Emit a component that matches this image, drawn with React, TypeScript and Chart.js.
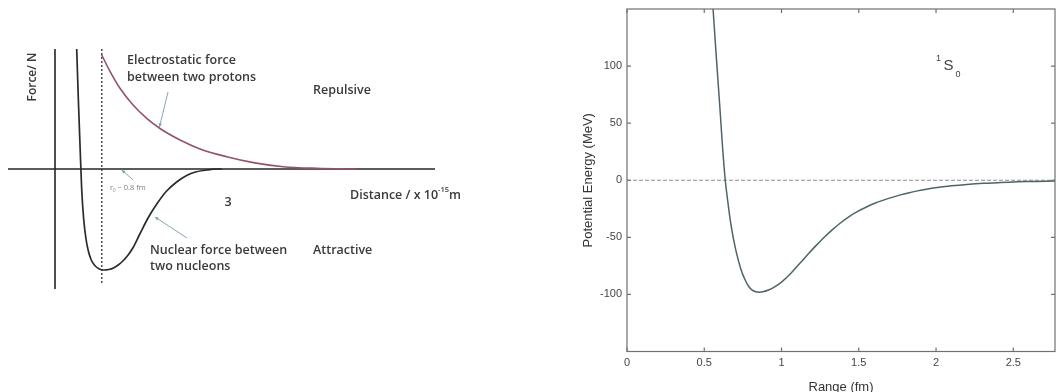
import React, { useEffect, useRef } from 'react';
import { Chart, registerables } from 'chart.js';

Chart.register(...registerables);

// ---------- Left panel: schematic force curves (x in fm, y in arbitrary force units) ----------
const NUCLEAR_X = [0.371, 0.40, 0.43, 0.456, 0.49, 0.53, 0.57, 0.62, 0.68, 0.75, 0.83, 0.92, 1.0, 1.08, 1.16, 1.25, 1.33, 1.45, 1.6, 1.74, 1.9, 2.08, 2.25, 2.4, 2.593, 2.764, 2.85];
const NUCLEAR_F = [1.2, 0.68, 0.2, -0.2, -0.5, -0.7, -0.82, -0.91, -0.965, -0.997, -1.01, -1.005, -0.99, -0.96, -0.92, -0.86, -0.79, -0.65, -0.48, -0.35, -0.225, -0.13, -0.065, -0.03, -0.01, 0, 0];

const COULOMB_X = [0.798, 0.94, 1.111, 1.338, 1.568, 1.795, 2.137, 2.479, 2.935, 3.39, 3.903, 4.474, 5.157];
const COULOMB_F = [1.14, 0.977, 0.807, 0.637, 0.507, 0.405, 0.29, 0.201, 0.123, 0.064, 0.023, 0.007, 0];

const R0_X = [0.8, 0.8];
const R0_F = [1.2, -1.14];

// ---------- Right panel: 1S0 potential ----------
const RANGE_FM = [0.545, 0.557, 0.575, 0.59, 0.605, 0.62, 0.636, 0.65, 0.67, 0.69, 0.71, 0.735, 0.76, 0.79, 0.82, 0.853, 0.88, 0.92, 0.95, 1.0, 1.058, 1.11, 1.167, 1.22, 1.275, 1.33, 1.383, 1.44, 1.49, 1.55, 1.6, 1.66, 1.71, 1.77, 1.82, 1.88, 1.92, 2.03, 2.1, 2.2, 2.31, 2.42, 2.53, 2.65, 2.78];
const POTENTIAL_MEV = [175, 150, 114, 85, 56, 26, 0, -16, -36.5, -52, -64.5, -77, -86, -93.5, -97, -98, -97.6, -95.9, -93.9, -89.2, -81.9, -74.1, -65.5, -57.7, -50.1, -43.2, -37.2, -31.6, -27.5, -23.4, -20.4, -17.4, -15.2, -12.8, -11.1, -9.3, -8.3, -6.0, -4.9, -3.7, -2.7, -2.0, -1.4, -1.0, -0.7];

const X_TICKS = [0, 0.5, 1, 1.5, 2, 2.5];
const Y_TICKS = [-100, -50, 0, 50, 100];
const X_MIN = 0;
const X_MAX = 2.77;
const Y_MIN = -150;
const Y_MAX = 150;

const pts = (xs: number[], ys: number[]) => xs.map((x, i) => ({ x, y: ys[i] }));

// ---------- Left panel decoration (axes, labels, arrows) ----------
const LEFT_AXES = { xFrom: -0.803, xTo: 6.496, yFrom: -1.2, yTo: 1.2 };
const LEFT_FONT = "'Open Sans', 'Liberation Sans', sans-serif";

type Part = { t: string; sup?: boolean; sub?: boolean };
const LEFT_LABELS: { parts: Part[]; x: number; y: number; align?: string; size?: number; color?: string; weight?: string }[] = [
  { parts: [{ t: 'Electrostatic force' }], x: 1.231, y: 1.09 },
  { parts: [{ t: 'between two protons' }], x: 1.231, y: 0.92 },
  { parts: [{ t: 'Repulsive' }], x: 4.41, y: 0.79 },
  { parts: [{ t: 'Distance / x 10' }, { t: '-15', sup: true }, { t: 'm' }], x: 5.043, y: -0.26 },
  { parts: [{ t: '3' }], x: 2.957, y: -0.33, align: 'center' },
  { parts: [{ t: 'Nuclear force between' }], x: 1.624, y: -0.81 },
  { parts: [{ t: 'two nucleons' }], x: 1.624, y: -0.97 },
  { parts: [{ t: 'Attractive' }], x: 4.41, y: -0.81 },
  { parts: [{ t: 'r' }, { t: '0', sub: true }, { t: ' ~ 0.8 fm' }], x: 0.94, y: -0.19, size: 7.5, color: '#808080', weight: '400' },
];
const LEFT_YTITLE = { text: 'Force/ N', x: -0.376, y: 0.92 };
const LEFT_ARROWS = [
  { from: [1.932, 0.77], to: [1.786, 0.42] },
  { from: [2.256, -0.69], to: [1.709, -0.48] },
  { from: [1.338, -0.11], to: [1.14, -0.01] },
];

function drawParts(ctx: CanvasRenderingContext2D, parts: Part[], x: number, y: number, size: number, weight: string, align: string) {
  const fontFor = (p: Part) => `${weight} ${p.sup || p.sub ? size * 0.6 : size}px ${LEFT_FONT}`;
  let total = 0;
  parts.forEach((p) => { ctx.font = fontFor(p); total += ctx.measureText(p.t).width; });
  let cx = align === 'center' ? x - total / 2 : x;
  ctx.textAlign = 'left';
  ctx.textBaseline = 'middle';
  parts.forEach((p) => {
    ctx.font = fontFor(p);
    const dy = p.sup ? -size * 0.4 : p.sub ? size * 0.3 : 0;
    ctx.fillText(p.t, cx, y + dy);
    cx += ctx.measureText(p.t).width;
  });
}

const leftDecor = {
  id: 'leftDecor',
  beforeDatasetsDraw(chart: any) {
    const { ctx, scales: { x, y } } = chart;
    ctx.save();
    ctx.strokeStyle = '#262626';
    ctx.lineWidth = 1.6;
    ctx.beginPath();
    ctx.moveTo(x.getPixelForValue(LEFT_AXES.xFrom), y.getPixelForValue(0));
    ctx.lineTo(x.getPixelForValue(LEFT_AXES.xTo), y.getPixelForValue(0));
    ctx.moveTo(x.getPixelForValue(0), y.getPixelForValue(LEFT_AXES.yTo));
    ctx.lineTo(x.getPixelForValue(0), y.getPixelForValue(LEFT_AXES.yFrom));
    ctx.stroke();
    ctx.restore();
  },
  afterDatasetsDraw(chart: any) {
    const { ctx, scales: { x, y } } = chart;
    ctx.save();
    // arrows
    ctx.strokeStyle = '#7fa8b4';
    ctx.fillStyle = '#7fa8b4';
    ctx.lineWidth = 1;
    LEFT_ARROWS.forEach((a) => {
      const x1 = x.getPixelForValue(a.from[0]);
      const y1 = y.getPixelForValue(a.from[1]);
      const x2 = x.getPixelForValue(a.to[0]);
      const y2 = y.getPixelForValue(a.to[1]);
      ctx.beginPath();
      ctx.moveTo(x1, y1);
      ctx.lineTo(x2, y2);
      ctx.stroke();
      const ang = Math.atan2(y2 - y1, x2 - x1);
      const hl = 4;
      ctx.beginPath();
      ctx.moveTo(x2, y2);
      ctx.lineTo(x2 - hl * Math.cos(ang - 0.45), y2 - hl * Math.sin(ang - 0.45));
      ctx.lineTo(x2 - hl * Math.cos(ang + 0.45), y2 - hl * Math.sin(ang + 0.45));
      ctx.closePath();
      ctx.fill();
    });
    // labels
    LEFT_LABELS.forEach((l) => {
      ctx.fillStyle = l.color || '#3a3a3a';
      drawParts(ctx, l.parts, x.getPixelForValue(l.x), y.getPixelForValue(l.y), l.size || 12.5, l.weight || '600', l.align || 'left');
    });
    // rotated y title
    ctx.save();
    ctx.translate(x.getPixelForValue(LEFT_YTITLE.x), y.getPixelForValue(LEFT_YTITLE.y));
    ctx.rotate(-Math.PI / 2);
    ctx.fillStyle = '#3a3a3a';
    ctx.font = `600 12px ${LEFT_FONT}`;
    ctx.textAlign = 'center';
    ctx.textBaseline = 'middle';
    ctx.fillText(LEFT_YTITLE.text, 0, 0);
    ctx.restore();
    ctx.restore();
  },
};

// ---------- Right panel decoration (MATLAB-style box, inward ticks, state label) ----------
const RIGHT_FONT = "'Liberation Sans', Arial, sans-serif";
const STATE_LABEL = { x: 2.08, y: 100 };

const rightDecor = {
  id: 'rightDecor',
  afterDatasetsDraw(chart: any) {
    const { ctx, chartArea: a, scales: { x, y } } = chart;
    ctx.save();
    ctx.strokeStyle = '#707070';
    ctx.lineWidth = 1.2;
    ctx.strokeRect(a.left, a.top, a.right - a.left, a.bottom - a.top);
    ctx.beginPath();
    X_TICKS.forEach((v) => {
      const p = x.getPixelForValue(v);
      ctx.moveTo(p, a.bottom); ctx.lineTo(p, a.bottom - 4);
      ctx.moveTo(p, a.top); ctx.lineTo(p, a.top + 4);
    });
    Y_TICKS.forEach((v) => {
      const p = y.getPixelForValue(v);
      ctx.moveTo(a.left, p); ctx.lineTo(a.left + 4, p);
      ctx.moveTo(a.right, p); ctx.lineTo(a.right - 4, p);
    });
    ctx.stroke();
    // 1S0 label
    const cx = x.getPixelForValue(STATE_LABEL.x);
    const cy = y.getPixelForValue(STATE_LABEL.y);
    ctx.fillStyle = '#404040';
    ctx.textAlign = 'center';
    ctx.textBaseline = 'middle';
    ctx.font = `15px ${RIGHT_FONT}`;
    ctx.fillText('S', cx, cy);
    ctx.font = `9px ${RIGHT_FONT}`;
    ctx.fillText('1', cx - 10, cy - 8);
    ctx.fillText('0', cx + 9.5, cy + 8);
    ctx.restore();
  },
};

export default function App() {
  const leftRef = useRef<HTMLCanvasElement>(null);
  const rightRef = useRef<HTMLCanvasElement>(null);

  useEffect(() => {
    const left = new Chart(leftRef.current as HTMLCanvasElement, {
      type: 'line',
      data: {
        datasets: [
          { data: pts(NUCLEAR_X, NUCLEAR_F), borderColor: '#2b2b2b', borderWidth: 1.7, pointRadius: 0, cubicInterpolationMode: 'monotone', fill: false },
          { data: pts(COULOMB_X, COULOMB_F), borderColor: '#935270', borderWidth: 1.6, pointRadius: 0, cubicInterpolationMode: 'monotone', fill: false },
          { data: pts(R0_X, R0_F), borderColor: '#333333', borderWidth: 1.3, borderDash: [2, 2], pointRadius: 0, fill: false },
        ],
      } as any,
      options: {
        animation: false,
        responsive: false,
        events: [],
        layout: { padding: 0 },
        plugins: { legend: { display: false }, tooltip: { enabled: false } },
        scales: {
          x: { type: 'linear', display: false, min: -0.9402, max: 7.6068 },
          y: { type: 'linear', display: false, min: -2.23, max: 1.69 },
        },
      } as any,
      plugins: [leftDecor],
    });

    const right = new Chart(rightRef.current as HTMLCanvasElement, {
      type: 'line',
      data: {
        datasets: [
          { data: pts(RANGE_FM, POTENTIAL_MEV), borderColor: '#4d6468', borderWidth: 1.5, pointRadius: 0, tension: 0.35, fill: false, order: 0 },
          { data: [{ x: X_MIN, y: 0 }, { x: X_MAX, y: 0 }], borderColor: '#8c8c8c', borderWidth: 1, borderDash: [4, 2], pointRadius: 0, fill: false, order: 1 },
        ],
      } as any,
      options: {
        animation: false,
        responsive: false,
        events: [],
        layout: { padding: { left: 0, right: 1, top: 9, bottom: 0 } },
        plugins: { legend: { display: false }, tooltip: { enabled: false } },
        scales: {
          x: {
            type: 'linear',
            min: X_MIN,
            max: X_MAX,
            afterBuildTicks: (s: any) => { s.ticks = X_TICKS.map((v) => ({ value: v })); },
            afterFit: (s: any) => { s.height = 40.5; s.paddingLeft = 0; s.paddingRight = 0; },
            grid: { display: false, drawTicks: false },
            border: { display: false },
            ticks: { padding: 5, autoSkip: false, maxRotation: 0, color: '#454545', font: { family: RIGHT_FONT, size: 11 }, callback: (v: any) => String(v) },
            title: { display: true, text: 'Range (fm)', color: '#353535', font: { family: RIGHT_FONT, size: 13, lineHeight: 1 }, padding: { top: 0, bottom: -2 } },
          },
          y: {
            type: 'linear',
            min: Y_MIN,
            max: Y_MAX,
            afterBuildTicks: (s: any) => { s.ticks = Y_TICKS.map((v) => ({ value: v })); },
            afterFit: (s: any) => { s.width = 97; s.paddingTop = 0; s.paddingBottom = 0; },
            grid: { display: false, drawTicks: false },
            border: { display: false },
            ticks: { padding: 5, autoSkip: false, color: '#454545', font: { family: RIGHT_FONT, size: 11 }, callback: (v: any) => String(v) },
            title: { display: true, text: 'Potential Energy (MeV)', color: '#353535', font: { family: RIGHT_FONT, size: 13, lineHeight: 1 }, padding: { top: 51.5, bottom: 0 } },
          },
        },
      } as any,
      plugins: [rightDecor],
    });

    return () => {
      left.destroy();
      right.destroy();
    };
  }, []);

  return (
    <div style={{ position: 'absolute', left: 0, top: 0, width: 1056, height: 392, overflow: 'hidden', background: '#ffffff' }}>
      <canvas ref={leftRef} width={500} height={392} style={{ position: 'absolute', left: 0, top: 0, width: 500, height: 392 }} />
      <canvas ref={rightRef} width={526} height={392} style={{ position: 'absolute', left: 530, top: 0, width: 526, height: 392 }} />
    </div>
  );
}
